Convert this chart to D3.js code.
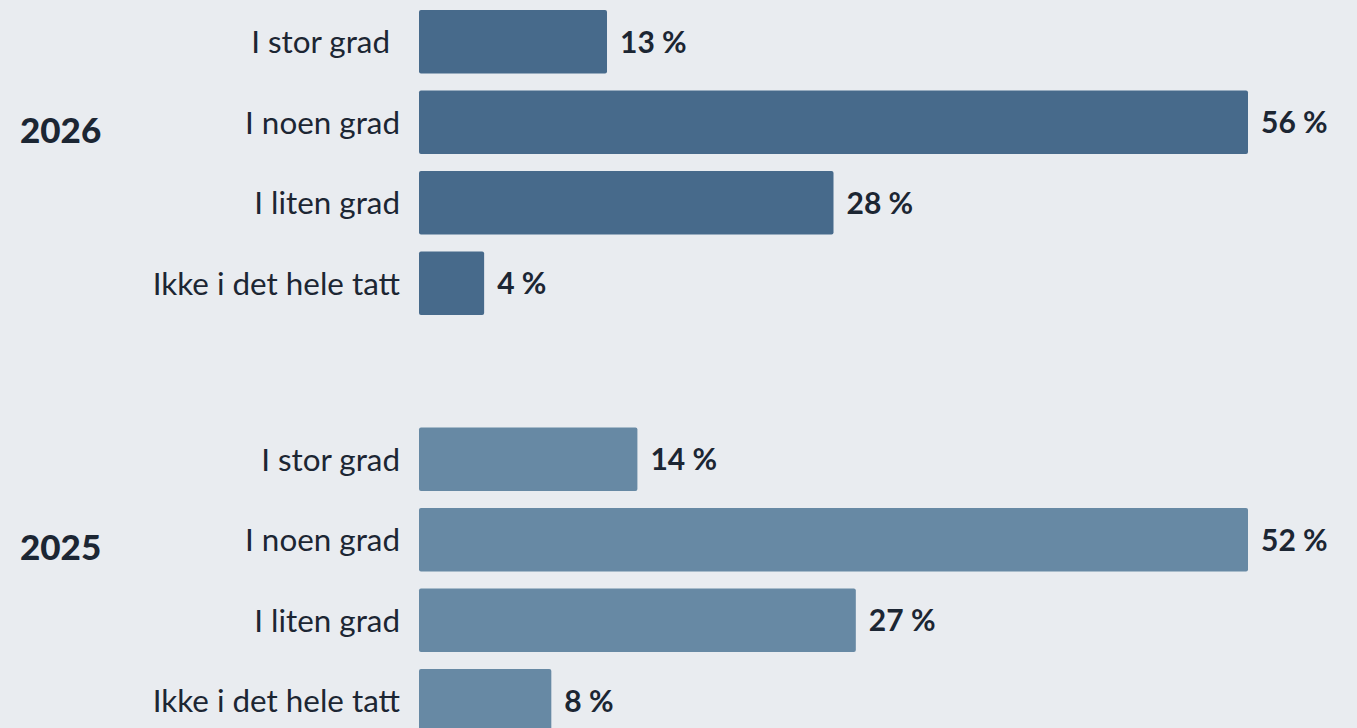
<!DOCTYPE html>
<html><head><meta charset="utf-8">
<script src="https://cdn.jsdelivr.net/npm/d3@7"></script>
<style>html,body{margin:0;padding:0;background:#e9ecf0;overflow:hidden}</style>
</head><body><svg id="c" width="1357" height="728"></svg>
<script>
const categories = ["I stor grad", "I noen grad", "I liten grad", "Ikke i det hele tatt"];
const years = ["2026", "2025"];
// bar lengths (labels show the rounded value)
const values2026 = [12.7, 56, 28, 4.4];
const values2025 = [13.7, 52, 27.4, 8.3];
const colors = ["#476a8b", "#6789a4"];

const svg = d3.select("#c");
svg.append("rect").attr("width",1357).attr("height",728).attr("fill","#e9ecf0");
const font = "Lato, 'Open Sans', sans-serif";
const fmt = d3.format(".0f");
const groups = [
  {year: years[0], values: values2026, color: colors[0], y0: 1.5},
  {year: years[1], values: values2025, color: colors[1], y0: 419}
];
groups.forEach((g, gi) => {
  const data = categories.map((c, i) => ({cat: c, v: g.values[i]}));
  const y = d3.scaleBand().domain(categories).range([g.y0, g.y0 + 322]).paddingInner(0.21).paddingOuter(0.105);
  const x = d3.scaleLinear().domain([0, d3.max(g.values)]).range([419, 1248]);
  const gg = svg.append("g");
  gg.selectAll("rect.bar").data(data).join("rect").attr("class","bar")
    .attr("x", x(0)).attr("y", d => y(d.cat))
    .attr("width", d => x(d.v) - x(0)).attr("height", y.bandwidth())
    .attr("rx", 2).attr("fill", g.color);
  gg.selectAll("text.cat").data(data).join("text").attr("class","cat")
    .attr("x", (d, i) => (gi === 0 && i === 0) ? 390 : 400)
    .attr("y", d => y(d.cat) + y.bandwidth()/2)
    .attr("dy", "0.36em").attr("text-anchor","end")
    .attr("font-family", font).attr("font-size", 31.4).attr("fill","#1c2633")
    .text(d => d.cat);
  gg.selectAll("text.val").data(data).join("text").attr("class","val")
    .attr("x", d => x(d.v) + 13)
    .attr("y", d => y(d.cat) + y.bandwidth()/2)
    .attr("dy", "0.36em")
    .attr("font-family", font).attr("font-size", 30).attr("font-weight","bold").attr("fill","#1c2633")
    .text(d => fmt(d.v) + " %");
  gg.append("text")
    .attr("x", 20).attr("y", y(categories[1]) + y.bandwidth()/2 + 8)
    .attr("dy", "0.36em")
    .attr("font-family", font).attr("font-size", 35).attr("font-weight","900").attr("fill","#1c2633")
    .text(g.year);
});
</script></body></html>
